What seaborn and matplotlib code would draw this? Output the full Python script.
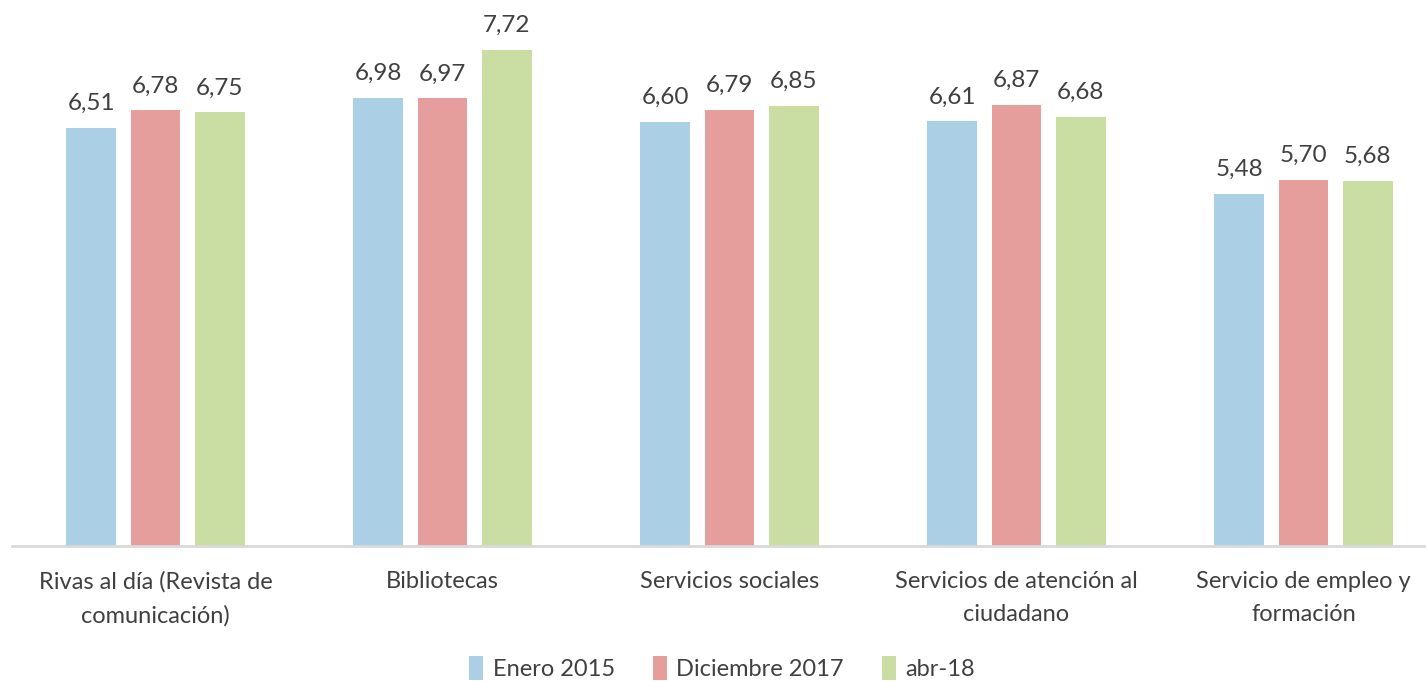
import numpy as np
import pandas as pd
import seaborn as sns
import matplotlib.pyplot as plt

# Datos del grafico
categorias = ['Rivas al día (Revista de\ncomunicación)', 'Bibliotecas', 'Servicios sociales',
              'Servicios de atención al\nciudadano', 'Servicio de empleo y\nformación']
series = ['Enero 2015', 'Diciembre 2017', 'abr-18']
enero_2015 = [6.51, 6.98, 6.60, 6.61, 5.48]
diciembre_2017 = [6.78, 6.97, 6.79, 6.87, 5.70]
abr_18 = [6.75, 7.72, 6.85, 6.68, 5.68]
colores = ['#abd0e6', '#e59e9c', '#cadda3']

data = pd.DataFrame({
    'Categoria': categorias * 3,
    'Serie': [series[0]] * 5 + [series[1]] * 5 + [series[2]] * 5,
    'Valor': enero_2015 + diciembre_2017 + abr_18,
})

sns.set_style('white')
plt.rcParams['font.family'] = ['Lato', 'DejaVu Sans']

fig = plt.figure(figsize=(14.26, 6.81), dpi=100)
ax = fig.add_axes([12 / 1426, 1 - 546 / 681, 1435 / 1426, 546 / 681])

sns.barplot(data=data, x='Categoria', y='Valor', hue='Serie', palette=colores,
            saturation=1, linewidth=0, width=0.67, gap=0.22, ax=ax, legend=True)

for cont in ax.containers:
    ax.bar_label(cont, labels=[f'{v:.2f}'.replace('.', ',') for v in cont.datavalues],
                 padding=10, fontsize=17.5, color='#404040')

ax.set_ylim(0, 8.5)
ax.set_xlim(-0.5, 4.5)
ax.set_yticks([])
ax.set_xlabel('')
ax.set_ylabel('')
ax.tick_params(axis='x', length=0, pad=18, labelsize=17, labelcolor='#404040')
for lab in ax.get_xticklabels():
    lab.set_linespacing(1.7)
for s in ['top', 'right', 'left']:
    ax.spines[s].set_visible(False)
ax.spines['bottom'].set_color('#d9d9d9')
ax.spines['bottom'].set_linewidth(2)

ax.legend(loc='center', bbox_to_anchor=(722 / 1426, 13 / 681), bbox_transform=fig.transFigure,
          ncol=3, frameon=False, fontsize=17, handlelength=0.6, handleheight=1.2,
          handletextpad=0.4, columnspacing=1.6, labelcolor='#404040')

fig.savefig('out.png', dpi=100)
